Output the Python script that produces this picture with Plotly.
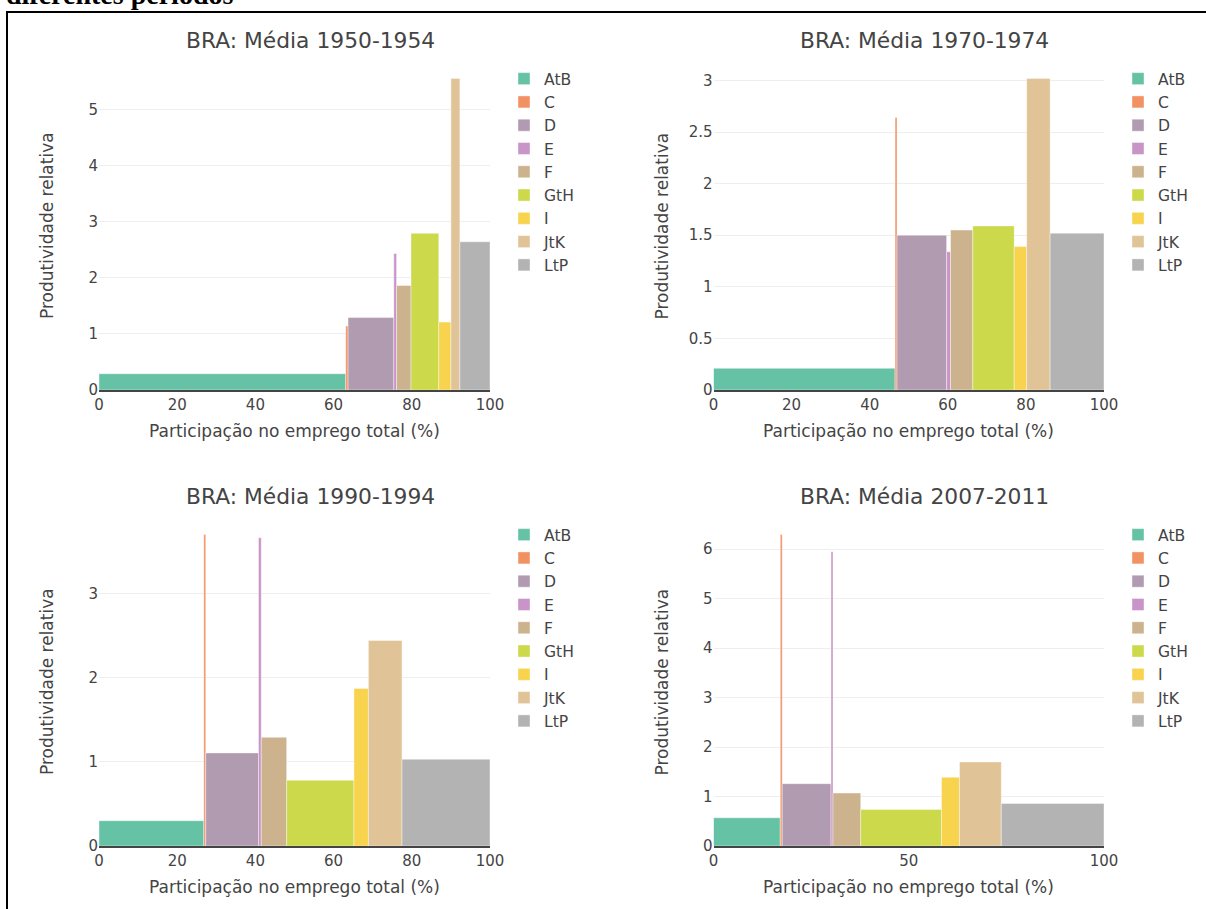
import plotly.graph_objects as go
import numpy as np

sectors = ["AtB", "C", "D", "E", "F", "GtH", "I", "JtK", "LtP"]
colors = ["#66c2a5", "#f29263", "#b19bb0", "#c994c7", "#ccb38e",
          "#cbd94a", "#f8d34e", "#e0c497", "#b3b3b3"]

titles = ["BRA: Média 1950-1954", "BRA: Média 1970-1974",
          "BRA: Média 1990-1994", "BRA: Média 2007-2011"]

share_1950 = [63.1, 0.6, 11.7, 0.7, 3.7, 7.1, 3.1, 2.3, 7.7]
prod_1950 = [0.29, 1.14, 1.29, 2.43, 1.86, 2.79, 1.21, 5.55, 2.64]
share_1970 = [46.5, 0.5, 12.7, 1.0, 5.7, 10.6, 3.2, 6.0, 13.8]
prod_1970 = [0.21, 2.64, 1.50, 1.34, 1.55, 1.59, 1.39, 3.02, 1.52]
share_1990 = [26.8, 0.5, 13.5, 0.7, 6.5, 17.2, 3.7, 8.6, 22.5]
prod_1990 = [0.30, 3.70, 1.105, 3.66, 1.29, 0.78, 1.87, 2.44, 1.03]
share_2007 = [17.1, 0.5, 12.5, 0.5, 7.1, 20.7, 4.6, 10.7, 26.3]
prod_2007 = [0.57, 6.30, 1.26, 5.95, 1.07, 0.74, 1.39, 1.70, 0.86]

x_ticks = [[0, 20, 40, 60, 80, 100]] * 3 + [[0, 50, 100]]
y_dticks = [1, 0.5, 1, 1]

x_title = "Participação no emprego total (%)"
y_title = "Produtividade relativa"
header = "diferentes períodos"

panels = [(share_1950, prod_1950), (share_1970, prod_1970),
          (share_1990, prod_1990), (share_2007, prod_2007)]

W, H = 1206, 909
FONT = "DejaVu Sans"
TXT = "#444"

# pixel layout of each panel: (x_left, x_right, y_top, y_bottom)
boxes = [(99, 490, 62, 390), (713.5, 1104, 62, 390),
         (99, 490, 518, 846), (713.5, 1104, 518, 846)]
legend_pos = [(504, 62), (1118, 62), (504, 518), (1118, 518)]

fig = go.Figure()
layout = dict()
annotations = []

def ann(text, xp, yp, size, angle=0):
    return dict(text=text, x=xp / W, y=1 - yp / H, xref="paper", yref="paper",
                xanchor="center", yanchor="middle", showarrow=False, textangle=angle,
                font=dict(family=FONT, size=size, color=TXT))

for i, ((share, prod), box) in enumerate(zip(panels, boxes)):
    n = i + 1
    xa = "x" if n == 1 else f"x{n}"
    ya = "y" if n == 1 else f"y{n}"
    leg = "legend" if n == 1 else f"legend{n}"
    share = np.array(share, dtype=float)
    right = np.cumsum(share)
    left = right - share
    mid = (left + right) / 2
    for k, s in enumerate(sectors):
        fig.add_trace(go.Bar(
            x=[mid[k]], y=[prod[k]], width=[share[k]], name=s,
            marker=dict(color=colors[k], line=dict(color="rgba(255,255,255,0.8)", width=0.5)),
            xaxis=xa, yaxis=ya, legend=leg, showlegend=True,
        ))
    x0, x1, y0, y1 = box
    xdom = [x0 / W, x1 / W]
    ydom = [1 - y1 / H, 1 - y0 / H]
    layout[f"xaxis{'' if n == 1 else n}"] = dict(
        domain=xdom, anchor=ya, range=[0, 100], tickvals=x_ticks[i],
        showgrid=False, zeroline=False, showline=True, linecolor="#444", linewidth=1.5,
        ticks="", tickfont=dict(family=FONT, size=15, color=TXT),
        automargin=False,
    )
    layout[f"yaxis{'' if n == 1 else n}"] = dict(
        domain=ydom, anchor=xa, dtick=y_dticks[i], rangemode="tozero",
        showgrid=True, gridcolor="#eee", zeroline=False, showline=False,
        ticks="", tickfont=dict(family=FONT, size=15, color=TXT),
        automargin=False,
    )
    lx, ly = legend_pos[i]
    layout[leg] = dict(x=lx / W, y=1 - ly / H, xanchor="left", yanchor="top",
                       font=dict(family=FONT, size=15.6, color=TXT),
                       bgcolor="rgba(0,0,0,0)", tracegroupgap=0)
    annotations.append(ann(titles[i], (x0 + x1) / 2 + 15.5, y0 - 22, 21.8))
    annotations.append(ann(x_title, (x0 + x1) / 2, y1 + 41, 17))
    annotations.append(ann(y_title, x0 - 52, (y0 + y1) / 2, 17, angle=-90))

annotations.append(dict(
    text="<b>" + header + "</b>", x=4 / W, y=1 + 5 / H, xref="paper", yref="paper",
    xanchor="left", yanchor="middle", showarrow=False,
    font=dict(family="Liberation Serif", size=28, color="black")))

fig.update_layout(
    width=W, height=H, margin=dict(l=0, r=0, t=0, b=0),
    paper_bgcolor="white", plot_bgcolor="white", template="none",
    barmode="overlay", annotations=annotations,
    shapes=[dict(type="rect", xref="paper", yref="paper",
                 x0=7 / W, x1=1.02, y0=-0.02, y1=1 - 12 / H,
                 line=dict(color="black", width=2), fillcolor="rgba(0,0,0,0)")],
    **layout,
)

fig.write_html("out.html")
